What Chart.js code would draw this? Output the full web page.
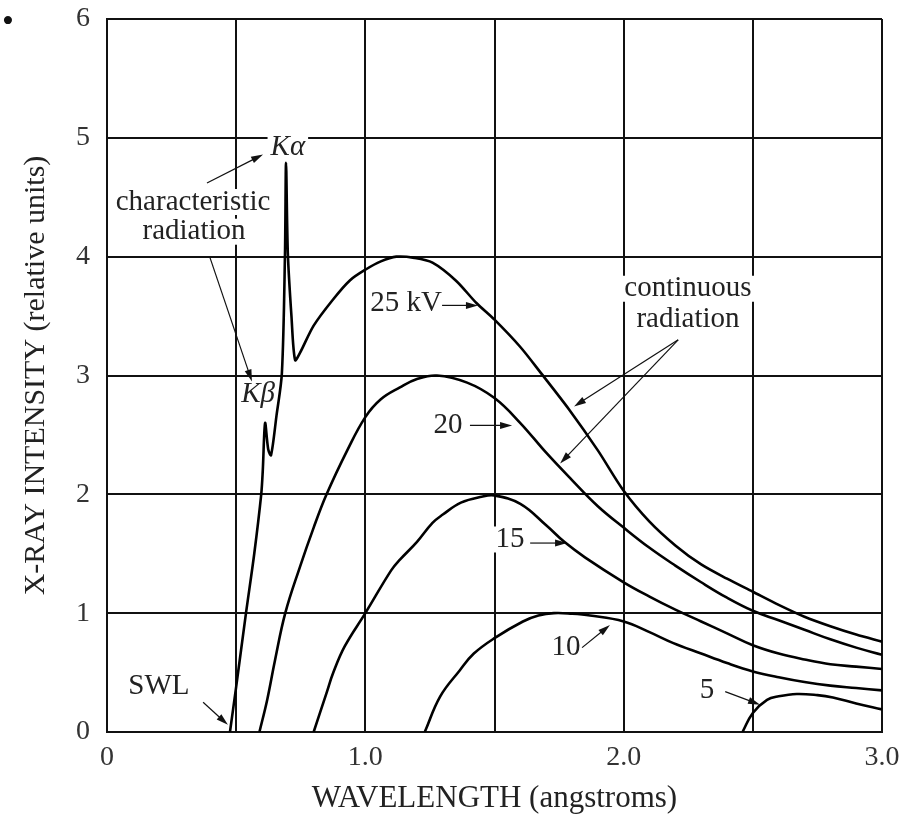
<!DOCTYPE html>
<html>
<head>
<meta charset="utf-8">
<script src="https://cdn.jsdelivr.net/npm/chart.js@4.4.1/dist/chart.umd.min.js"></script>
<style>
  body { margin: 0; background: #fff; }
  #wrap { position: relative; width: 916px; height: 818px; }
  #dot { position: absolute; left: 2px; top: 2px; font: 34px "Liberation Serif", serif; color: #111; }
</style>
</head>
<body>
<div id="wrap">
  <canvas id="spectrum"></canvas>
  <div id="dot">•</div>
</div>
<script>
// --- data (wavelength in angstroms, intensity in relative units) ---
const kv25X = [0.476, 0.50, 0.538, 0.57, 0.597, 0.603, 0.612, 0.624, 0.635, 0.656, 0.677, 0.689, 0.693, 0.70, 0.714, 0.728, 0.747, 0.80, 0.875, 0.94, 1.0, 1.06, 1.12, 1.19, 1.26, 1.35, 1.43, 1.5, 1.6, 1.68, 1.79, 1.9, 2.0, 2.1, 2.2, 2.3, 2.4, 2.5, 2.6, 2.7, 2.8, 2.9, 3.0];
const kv25Y = [0, 0.38, 1.0, 1.5, 2.0, 2.2, 2.6, 2.38, 2.33, 2.66, 3.02, 4.03, 4.79, 4.03, 3.5, 3.13, 3.19, 3.42, 3.64, 3.8, 3.89, 3.96, 4.0, 3.99, 3.95, 3.8, 3.61, 3.47, 3.24, 3.02, 2.71, 2.37, 2.03, 1.77, 1.57, 1.41, 1.29, 1.18, 1.07, 0.97, 0.89, 0.82, 0.76];

const kv20X = [0.59, 0.62, 0.65, 0.69, 0.747, 0.80, 0.85, 0.93, 1.0, 1.06, 1.134, 1.2, 1.277, 1.394, 1.5, 1.6, 1.7, 1.8, 1.9, 2.0, 2.1, 2.2, 2.3, 2.4, 2.5, 2.6, 2.7, 2.8, 2.9, 3.0];
const kv20Y = [0, 0.27, 0.6, 1.0, 1.39, 1.72, 2.0, 2.37, 2.65, 2.8, 2.9, 2.97, 3.0, 2.94, 2.81, 2.6, 2.35, 2.12, 1.9, 1.72, 1.55, 1.4, 1.26, 1.13, 1.02, 0.94, 0.86, 0.78, 0.71, 0.65];

const kv15X = [0.80, 0.85, 0.876, 0.92, 1.0, 1.1, 1.134, 1.2, 1.26, 1.3, 1.37, 1.45, 1.5, 1.6, 1.7, 1.77, 1.85, 2.0, 2.1, 2.2, 2.3, 2.4, 2.5, 2.6, 2.7, 2.8, 2.9, 3.0];
const kv15Y = [0, 0.33, 0.5, 0.72, 1.0, 1.36, 1.45, 1.6, 1.76, 1.83, 1.93, 1.98, 1.99, 1.92, 1.74, 1.6, 1.47, 1.26, 1.14, 1.03, 0.93, 0.83, 0.73, 0.66, 0.61, 0.57, 0.55, 0.53];

const kv10X = [1.23, 1.29, 1.366, 1.42, 1.5, 1.61, 1.67, 1.73, 1.8, 1.87, 2.0, 2.1, 2.19, 2.3, 2.4, 2.5, 2.6, 2.7, 2.8, 2.9, 3.0];
const kv10Y = [0, 0.3, 0.52, 0.66, 0.79, 0.93, 0.98, 1.0, 0.995, 0.98, 0.93, 0.84, 0.75, 0.66, 0.58, 0.51, 0.46, 0.42, 0.39, 0.37, 0.35];

const kv5X = [2.46, 2.5, 2.555, 2.6, 2.67, 2.75, 2.81, 2.9, 3.0];
const kv5Y = [0, 0.16, 0.27, 0.3, 0.32, 0.31, 0.29, 0.24, 0.19];

const xTickValues = [0, 1, 2, 3];
const xTickText = ['0', '1.0', '2.0', '3.0'];

// annotation labels, placed in data units
const noteText = ['Kα', 'characteristic', 'radiation', 'Kβ', '25 kV', '20', '15', '10', '5', 'continuous', 'radiation', 'SWL'];
const noteX = [0.70, 0.333, 0.337, 0.585, 1.158, 1.32, 1.56, 1.777, 2.323, 2.249, 2.249, 0.201];
const noteY = [4.92, 4.46, 4.21, 2.84, 3.61, 2.58, 1.62, 0.71, 0.35, 3.73, 3.47, 0.38];
const noteItalic = [true, false, false, true, false, false, false, false, false, false, false, false];

// arrows: tail -> head
const arrowFromX = [0.387, 0.399, 1.297, 1.405, 1.638, 1.839, 2.393, 2.211, 2.211, 0.372];
const arrowFromY = [4.62, 3.99, 3.59, 2.58, 1.59, 0.71, 0.34, 3.30, 3.30, 0.25];
const arrowToX = [0.604, 0.561, 1.436, 1.568, 1.781, 1.947, 2.528, 1.808, 1.754, 0.468];
const arrowToY = [4.86, 2.95, 3.59, 2.58, 1.59, 0.90, 0.23, 2.74, 2.26, 0.06];

const serif = '"Liberation Serif", "Times New Roman", serif';

function toPoints(xs, ys) {
    return xs.map((x, i) => ({ x: x, y: ys[i] }));
}

function curve(xs, ys, tension) {
    return {
        data: toPoints(xs, ys),
        borderColor: '#000',
        borderWidth: 2.6,
        pointRadius: 0,
        showLine: true,
        fill: false,
        tension: tension
    };
}

// draws the text labels and arrows under the curves
const notesPlugin = {
    id: 'notes',
    beforeDatasetsDraw(chart) {
        const ctx = chart.ctx;
        const xs = chart.scales.x, ys = chart.scales.y;
        ctx.save();
        ctx.textAlign = 'center';
        ctx.textBaseline = 'middle';
        noteText.forEach((t, i) => {
            ctx.font = (noteItalic[i] ? 'italic ' : '') + '29px ' + serif;
            const px = xs.getPixelForValue(noteX[i]);
            const py = ys.getPixelForValue(noteY[i]);
            const w = ctx.measureText(t).width;
            ctx.fillStyle = '#fff';
            ctx.fillRect(px - w / 2 - 3, py - 13, w + 6, 26);
            ctx.fillStyle = '#222';
            ctx.fillText(t, px, py);
        });
        ctx.strokeStyle = '#111';
        ctx.fillStyle = '#111';
        ctx.lineWidth = 1.2;
        arrowFromX.forEach((fx, i) => {
            const x1 = xs.getPixelForValue(fx), y1 = ys.getPixelForValue(arrowFromY[i]);
            const x2 = xs.getPixelForValue(arrowToX[i]), y2 = ys.getPixelForValue(arrowToY[i]);
            const a = Math.atan2(y2 - y1, x2 - x1);
            ctx.beginPath();
            ctx.moveTo(x1, y1);
            ctx.lineTo(x2 - 8 * Math.cos(a), y2 - 8 * Math.sin(a));
            ctx.stroke();
            ctx.beginPath();
            ctx.moveTo(x2, y2);
            ctx.lineTo(x2 - 12 * Math.cos(a) + 3.5 * Math.sin(a), y2 - 12 * Math.sin(a) - 3.5 * Math.cos(a));
            ctx.lineTo(x2 - 12 * Math.cos(a) - 3.5 * Math.sin(a), y2 - 12 * Math.sin(a) + 3.5 * Math.cos(a));
            ctx.closePath();
            ctx.fill();
        });
        ctx.restore();
    }
};

const ctx = document.getElementById('spectrum').getContext('2d');
new Chart(ctx, {
    type: 'scatter',
    data: {
        datasets: [
            curve(kv25X, kv25Y, 0.3),
            curve(kv20X, kv20Y, 0.4),
            curve(kv15X, kv15Y, 0.4),
            curve(kv10X, kv10Y, 0.4),
            curve(kv5X, kv5Y, 0.4)
        ]
    },
    options: {
        responsive: true,
        maintainAspectRatio: false,
        animation: false,
        layout: { padding: { top: 19, right: 34, left: 0, bottom: 0 } },
        plugins: { legend: { display: false }, tooltip: { enabled: false } },
        scales: {
            x: {
                type: 'linear',
                min: 0, max: 3,
                afterFit: (s) => { s.height = 86; s.paddingLeft = 0; s.paddingRight = 0; },
                grid: { color: '#111', lineWidth: 2, drawTicks: false },
                border: { color: '#111', width: 2 },
                ticks: {
                    stepSize: 0.5,
                    padding: 9,
                    color: '#333',
                    font: { family: serif, size: 28 },
                    maxRotation: 0,
                    callback: (v) => {
                        const k = xTickValues.indexOf(v);
                        return k >= 0 ? xTickText[k] : '';
                    }
                },
                title: {
                    display: true,
                    text: 'WAVELENGTH (angstroms)',
                    color: '#222',
                    font: { family: serif, size: 31 },
                    padding: { top: 0, bottom: 1 }
                }
            },
            y: {
                type: 'linear',
                min: 0, max: 6,
                afterFit: (s) => { s.width = 107; s.paddingTop = 0; s.paddingBottom = 0; },
                grid: { color: '#111', lineWidth: 2, drawTicks: false },
                border: { color: '#111', width: 2 },
                ticks: {
                    stepSize: 1,
                    padding: 17,
                    color: '#333',
                    font: { family: serif, size: 28 }
                },
                title: {
                    display: true,
                    text: 'X-RAY INTENSITY (relative units)',
                    color: '#222',
                    font: { family: serif, size: 30 },
                    padding: { top: 18, bottom: 0 }
                }
            }
        }
    },
    plugins: [notesPlugin]
});
</script>
</body>
</html>
